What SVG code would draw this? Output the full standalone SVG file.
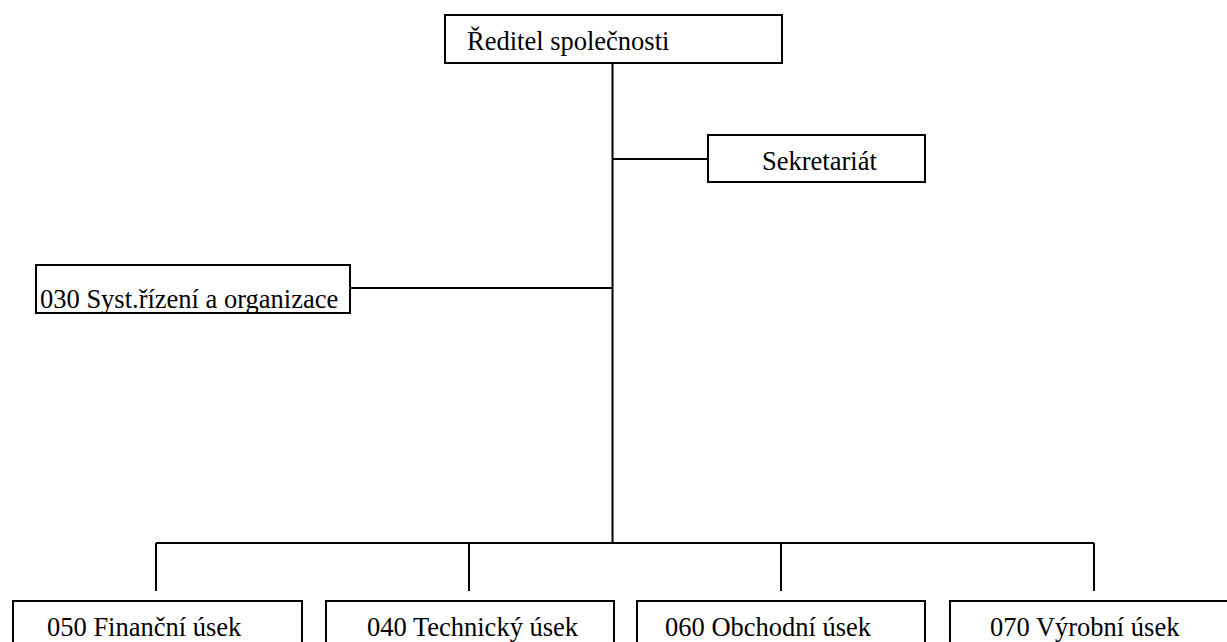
<svg xmlns="http://www.w3.org/2000/svg" width="1227" height="642" viewBox="0 0 1227 642">
<style>
.box{fill:#fff;stroke:#000;stroke-width:2}
.lbl{font-family:'Liberation Serif','DejaVu Serif',serif;font-size:26.5px;fill:#000}
.con{stroke:#000;stroke-width:2;fill:none}
</style>
<rect width="1227" height="642" fill="#fff"/>
<g id="connectors">
<line class="con" x1="612.5" y1="63" x2="612.5" y2="543"/>
<line class="con" x1="612.5" y1="159" x2="708" y2="159"/>
<line class="con" x1="350" y1="288" x2="612.5" y2="288"/>
<line class="con" x1="156" y1="543" x2="1094" y2="543"/>
<line class="con" x1="156" y1="543" x2="156" y2="591"/>
<line class="con" x1="469" y1="543" x2="469" y2="591"/>
<line class="con" x1="781" y1="543" x2="781" y2="591"/>
<line class="con" x1="1094" y1="543" x2="1094" y2="591"/>
</g>
<g id="reditel">
<rect class="box" x="445" y="15" width="337" height="48"/>
<text class="lbl" x="467" y="50">Ředitel společnosti</text>
</g>
<g id="sekretariat">
<rect class="box" x="708" y="135" width="217" height="47"/>
<text class="lbl" x="762" y="170">Sekretariát</text>
</g>
<g id="u030">
<rect class="box" x="36" y="265" width="314" height="48"/>
<text class="lbl" x="40" y="308">030 Syst.řízení a organizace</text>
</g>
<g id="u050">
<rect class="box" x="13" y="601" width="289" height="60"/>
<text class="lbl" x="47" y="636">050 Finanční úsek</text>
</g>
<g id="u040">
<rect class="box" x="326" y="601" width="288" height="60"/>
<text class="lbl" x="367" y="636">040 Technický úsek</text>
</g>
<g id="u060">
<rect class="box" x="637" y="601" width="288" height="60"/>
<text class="lbl" x="665" y="636">060 Obchodní úsek</text>
</g>
<g id="u070">
<rect class="box" x="950" y="601" width="290" height="60"/>
<text class="lbl" x="990" y="636">070 Výrobní úsek</text>
</g>
</svg>
